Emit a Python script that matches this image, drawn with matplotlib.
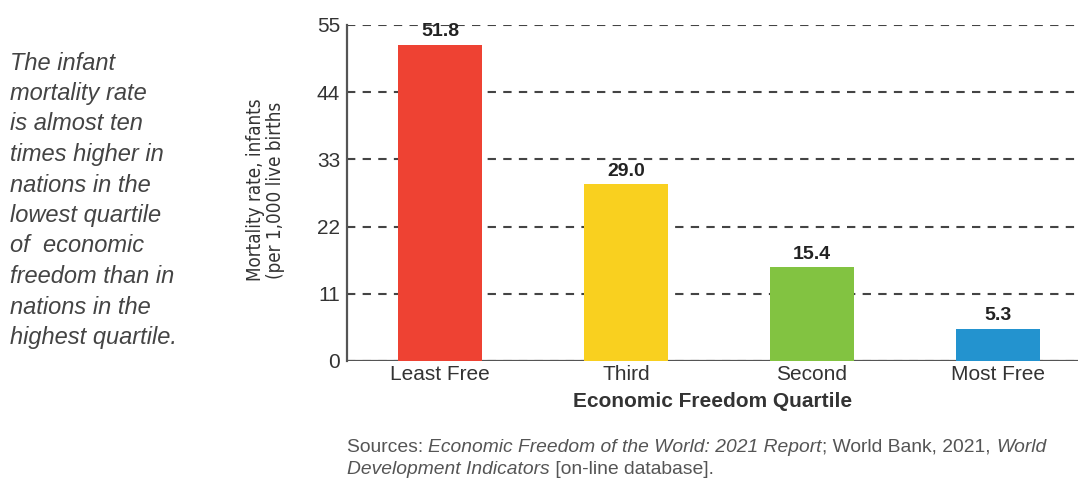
import matplotlib.pyplot as plt

quartiles = ["Least Free", "Third", "Second", "Most Free"]
mortality = [51.8, 29.0, 15.4, 5.3]
bar_colors = ["#EE4233", "#F9D01F", "#82C341", "#2393CF"]
y_ticks = [0, 11, 22, 33, 44, 55]

side_note = ["The infant", "mortality rate", "is almost ten", "times higher in",
             "nations in the", "lowest quartile", "of  economic",
             "freedom than in", "nations in the", "highest quartile."]

source_line1 = [("Sources: ", "normal"),
                ("Economic Freedom of the World: 2021 Report", "italic"),
                ("; World Bank, 2021, ", "normal"),
                ("World", "italic")]
source_line2 = [("Development Indicators", "italic"),
                (" [on-line database].", "normal")]

plt.rcParams["font.family"] = ["Liberation Sans", "DejaVu Sans"]

fig = plt.figure(figsize=(10.78, 4.8), dpi=100)
ax = fig.add_axes([0.3219, 0.248, 0.678, 0.700])

x = range(len(quartiles))
bars = ax.bar(x, mortality, width=0.45, color=bar_colors, zorder=3)
for b, v in zip(bars, mortality):
    ax.text(b.get_x() + b.get_width() / 2, v + 0.7, f"{v:.1f}", ha="center",
            va="bottom", fontsize=14, fontweight="bold", color="#222222")

ax.set_xlim(-0.5, 3.43)
ax.set_ylim(0, 55)
ax.set_yticks(y_ticks)
ax.set_xticks(list(x))
ax.set_xticklabels(quartiles)
ax.tick_params(axis="both", length=0, labelsize=15, colors="#333333")
ax.tick_params(axis="y", pad=5)
ax.tick_params(axis="x", pad=3)
ax.grid(axis="y", linestyle=(0, (4, 3.5)), color="#444444", linewidth=1.5, zorder=1)
for s in ["top", "right", "bottom"]:
    ax.spines[s].set_visible(False)
ax.spines["left"].set_color("#555555")
ax.spines["left"].set_linewidth(1.6)
ax.axhline(0, color="#555555", linewidth=1.6, zorder=2)

ax.set_xlabel("Economic Freedom Quartile", fontsize=15, color="#333333",
              fontweight="bold", labelpad=6)
fig.text(0.246, 1 - 190 / 480, "Mortality rate, infants\n(per 1,000 live births",
         rotation=90, ha="center", va="center", fontsize=13.5,
         family="DejaVu Sans", fontstretch="condensed", color="#333333",
         linespacing=1.05)

for i, line in enumerate(side_note):
    fig.text(0.009, 1 - (63 + i * 30.5) / 480, line, fontsize=17,
             style="italic", color="#444444", va="center")


def chain_text(pieces, x0, y0):
    t = fig.text(x0, y0, pieces[0][0], style=pieces[0][1], fontsize=13.9,
                 color="#555555", va="baseline")
    for s, st in pieces[1:]:
        t = fig.add_artist(plt.Annotation(s, xy=(1, 0), xycoords=t,
                                          style=st, fontsize=13.9,
                                          color="#555555", va="bottom"))
    return t


chain_text(source_line1, 347 / 1078, 1 - 452 / 480)
chain_text(source_line2, 347 / 1078, 1 - 474 / 480)

fig.savefig("out.png", dpi=100)
